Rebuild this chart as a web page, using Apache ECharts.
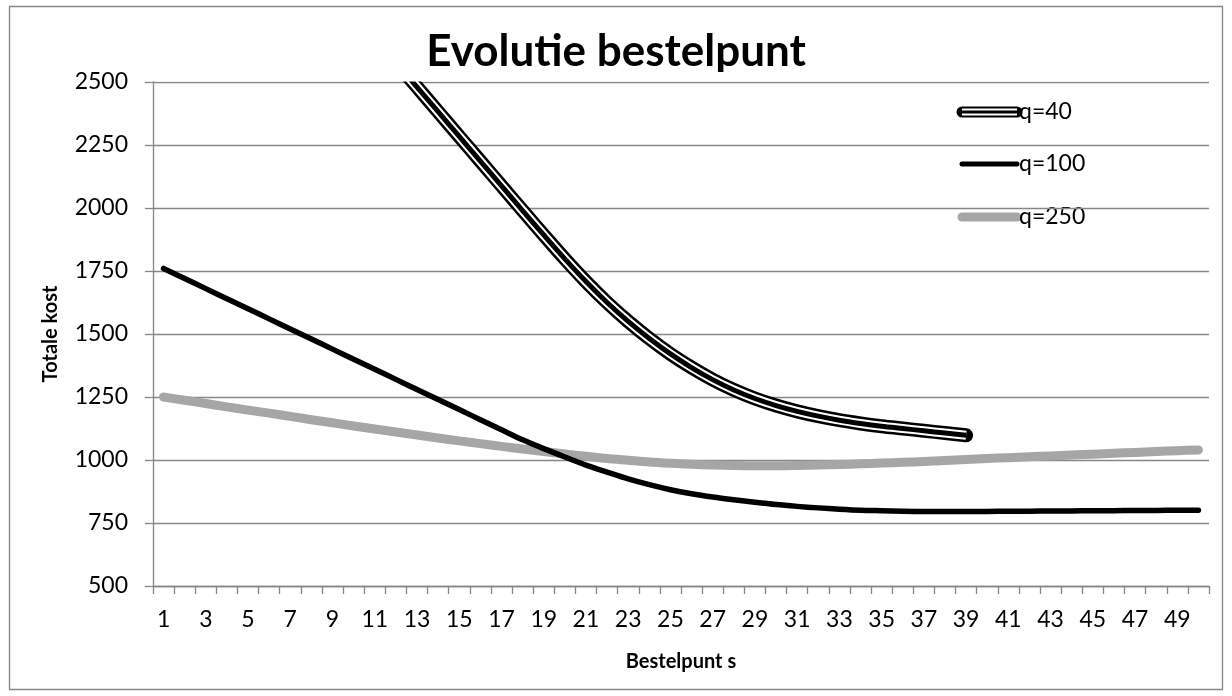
<!DOCTYPE html>
<html>
<head>
<meta charset="utf-8">
<script src="https://cdn.jsdelivr.net/npm/echarts@6/dist/echarts.min.js"></script>
<style>
  html, body { margin: 0; padding: 0; background: #ffffff; }
  #chart { width: 1232px; height: 696px; }
</style>
</head>
<body>
<div id="chart"></div>
<script>
// Reorder point s (x axis)
const categories = ['1','2','3','4','5','6','7','8','9','10','11','12','13','14','15','16','17','18','19','20',
  '21','22','23','24','25','26','27','28','29','30','31','32','33','34','35','36','37','38','39','40',
  '41','42','43','44','45','46','47','48','49','50'];

// Total cost for order quantity q = 40 (defined for s = 11..39; above 2500 it runs off the plot)
const q40 = [null,null,null,null,null,null,null,null,null,null,2676,2578,
  2480,2382,2284,2186,2088,1990,1893,1798,1708,1625,1550,1482,1421,1367,1319,1278,1244,1216,
  1193,1174,1158,1145,1134,1125,1116,1107,1098];

// Total cost for q = 100
const q100 = [1760,1720,1680,1640,1600,1560,1520,1480,1440,1400,1360,1320,1280,1240,1200,1160,1120,1080,
  1045,1012,980,952,925,902,882,866,853,842,832,823,816,810,805,801,799,797,796,796,796,796,
  797,797,798,798,799,799,800,800,801,801];

// Total cost for q = 250
const q250 = [1250,1237,1224,1211,1198,1186,1173,1160,1148,1135,1123,1111,1099,1087,1076,1065,1054,1044,
  1034,1024,1015,1006,999,992,987,983,980,978,977,977,978,980,982,985,988,991,994,998,1002,1006,
  1009,1013,1016,1020,1023,1027,1030,1034,1037,1040];

const yTicks = { min: 500, max: 2500, step: 250 };

const FONT = 'Lato, "Open Sans", sans-serif';
const GRID_COLOR = '#868686';
const GRAY = '#a6a6a6';

const GRID = { left: 153, right: 23, top: 82, bottom: 110 };

const chart = echarts.init(document.getElementById('chart'), null, { renderer: 'canvas' });

function lineSeries(name, data, color, width, cap, z) {
  return {
    name: name,
    type: 'line',
    data: data,
    smooth: 0.3,
    symbol: 'none',
    clip: true,
    connectNulls: false,
    z: z,
    lineStyle: { color: color, width: width, cap: cap, join: 'round' },
    emphasis: { disabled: true },
    animation: false
  };
}

// legend entries, drawn as sample strokes plus labels
const legendX = 962, legendW = 55, legendY = [112, 164, 217];
function legendLine(y, color, width, cap) {
  return {
    type: 'line',
    shape: { x1: legendX, y1: y, x2: legendX + legendW, y2: y },
    style: { stroke: color, lineWidth: width, lineCap: cap }
  };
}
function legendText(y, text) {
  return {
    type: 'text',
    x: legendX + legendW + 2,
    y: y,
    style: { text: text, font: '23px ' + FONT, fill: '#000', verticalAlign: 'middle', align: 'left' }
  };
}

const option = {
  backgroundColor: '#ffffff',
  animation: false,
  title: {
    text: 'Evolutie bestelpunt',
    left: 'center',
    top: 30,
    padding: 0,
    textStyle: { fontFamily: FONT, fontWeight: 'bold', fontSize: 44, color: '#000' }
  },
  grid: { left: GRID.left, right: GRID.right, top: GRID.top, bottom: GRID.bottom, containLabel: false },
  xAxis: {
    type: 'category',
    data: categories,
    boundaryGap: true,
    name: 'Bestelpunt s',
    nameLocation: 'middle',
    nameGap: 66,
    nameTextStyle: { fontFamily: FONT, fontWeight: 'bold', fontSize: 20, color: '#000' },
    axisLine: { show: true, lineStyle: { color: GRID_COLOR, width: 1.3 } },
    axisTick: { show: true, interval: 0, length: 8, lineStyle: { color: GRID_COLOR, width: 1.3 } },
    axisLabel: { interval: 1, margin: 22, fontFamily: FONT, fontSize: 23, color: '#000' },
    splitLine: { show: false }
  },
  yAxis: {
    type: 'value',
    min: yTicks.min,
    max: yTicks.max,
    interval: yTicks.step,
    name: 'Totale kost',
    nameLocation: 'middle',
    nameGap: 92,
    nameRotate: 90,
    nameTextStyle: { fontFamily: FONT, fontWeight: 'bold', fontSize: 20, color: '#000' },
    axisLine: { show: true, lineStyle: { color: GRID_COLOR, width: 1.3 } },
    axisTick: { show: true, length: 8, lineStyle: { color: GRID_COLOR, width: 1.3 } },
    axisLabel: { margin: 25, fontFamily: FONT, fontSize: 23, color: '#000', formatter: v => String(v) },
    splitLine: { show: true, lineStyle: { color: GRID_COLOR, width: 1.3 } }
  },
  series: [
    lineSeries('q=250', q250, GRAY, 9, 'round', 2),
    lineSeries('q=100', q100, '#000000', 5.5, 'round', 3),
    // q = 40 drawn as a thin-thick-thin compound stroke
    lineSeries('q=40', q40, '#000000', 14, 'round', 4),
    lineSeries('q=40 inner', q40, '#ffffff', 9, 'butt', 5),
    lineSeries('q=40 core', q40, '#000000', 5, 'butt', 6)
  ],
  graphic: [
    {
      type: 'rect',
      shape: { x: 9.5, y: 6.5, width: 1213, height: 683 },
      style: { fill: null, stroke: GRID_COLOR, lineWidth: 1.3 },
      silent: true,
      z: -10
    },
    // white band just above the plot top, so strokes leaving the plot end on the 2500 line
    {
      type: 'rect',
      shape: { x: GRID.left + 1, y: GRID.top - 10, width: 1232 - GRID.left - GRID.right - 1, height: 9.4 },
      style: { fill: '#ffffff' },
      silent: true,
      z: 50
    },
    {
      type: 'group',
      silent: true,
      z: 60,
      children: [
        legendLine(legendY[0], '#000000', 11, 'round'),
        legendLine(legendY[0], '#ffffff', 7, 'butt'),
        legendLine(legendY[0], '#000000', 3, 'butt'),
        legendText(legendY[0], 'q=40'),
        legendLine(legendY[1], '#000000', 5, 'round'),
        legendText(legendY[1], 'q=100'),
        legendLine(legendY[2], GRAY, 9, 'round'),
        legendText(legendY[2], 'q=250')
      ]
    }
  ]
};

chart.setOption(option);
</script>
</body>
</html>
